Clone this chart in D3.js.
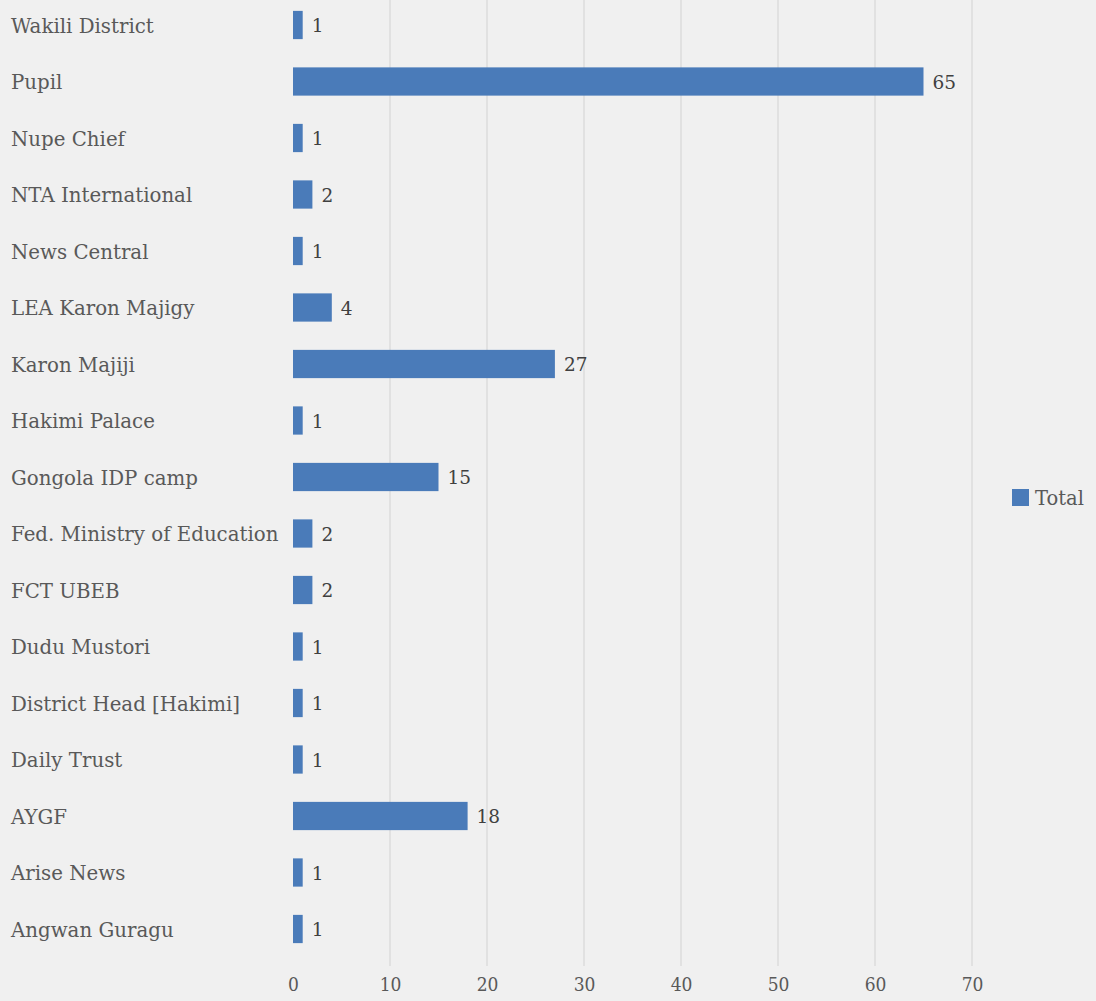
<!DOCTYPE html>
<html><head><meta charset="utf-8">
<script src="https://cdn.jsdelivr.net/npm/d3@7"></script>
<style>
html,body{margin:0;padding:0;background:#f0f0f0;}
svg{display:block;}
</style></head>
<body>
<svg id="chart" width="1096" height="1001"></svg>
<script>
const categories = ["Wakili District","Pupil","Nupe Chief","NTA International","News Central","LEA Karon Majigy","Karon Majiji","Hakimi Palace","Gongola IDP camp","Fed. Ministry of Education","FCT UBEB","Dudu Mustori","District Head [Hakimi]","Daily Trust","AYGF","Arise News","Angwan Guragu"];
const values = [1,65,1,2,1,4,27,1,15,2,2,1,1,1,18,1,1];
const xTicks = [0,10,20,30,40,50,60,70];
const seriesName = "Total";

(function(){
const FONT = "'DejaVu Serif',serif";
const FONTC = "'DejaVu Serif Condensed','DejaVu Serif',serif";
const svg = d3.select("#chart");
const mLeft = 293, mRight = 972, mTop = -3.25, mBottom = 957.25;

const x = d3.scaleLinear().domain([0,70]).range([mLeft,mRight]);
const y = d3.scaleBand().domain(categories).range([mTop,mBottom]).paddingInner(0.5).paddingOuter(0.25);

// gridlines
svg.append("g").selectAll("line").data(xTicks.filter(d=>d>0)).join("line")
  .attr("x1",d=>x(d)).attr("x2",d=>x(d)).attr("y1",0).attr("y2",966)
  .attr("stroke","#d9d9d9").attr("stroke-width",1.3);

// bars
svg.append("g").selectAll("rect").data(categories).join("rect")
  .attr("x",x(0)).attr("y",d=>y(d)).attr("height",y.bandwidth())
  .attr("width",(d,i)=>x(values[i])-x(0)).attr("fill","#4a7bb9");

// value labels
svg.append("g").selectAll("text").data(categories).join("text")
  .attr("x",(d,i)=>x(values[i])+9).attr("y",d=>y(d)+y.bandwidth()/2)
  .attr("dy","0.38em").attr("font-family",FONT).attr("font-size",18.5)
  .attr("fill","#404040").text((d,i)=>values[i]);

// category labels
const catG = svg.append("g");
catG.selectAll("text").data(categories).join("text")
  .attr("x",11).attr("y",d=>y(d)+y.bandwidth()/2).attr("dy","0.38em")
  .attr("font-family",FONT).attr("font-size",19.8).attr("fill","#595959").text(d=>d);

// x axis tick labels
const xAxis = d3.axisBottom(x).tickValues(xTicks).tickSize(0).tickPadding(0);
const ax = svg.append("g").attr("transform","translate(0,977)").call(xAxis);
ax.select(".domain").remove();
ax.selectAll("text").attr("font-family",FONTC).attr("font-size",19).attr("fill","#595959").attr("dy","0.71em");

// legend
const lg = svg.append("g").attr("transform","translate(1012,489)");
lg.append("rect").attr("width",17).attr("height",17).attr("fill","#4a7bb9");
lg.append("text").attr("x",23).attr("y",9).attr("dy","0.38em").attr("font-family",FONT)
  .attr("font-size",19.5).attr("fill","#595959").text(seriesName);
})();
</script>
</body></html>
